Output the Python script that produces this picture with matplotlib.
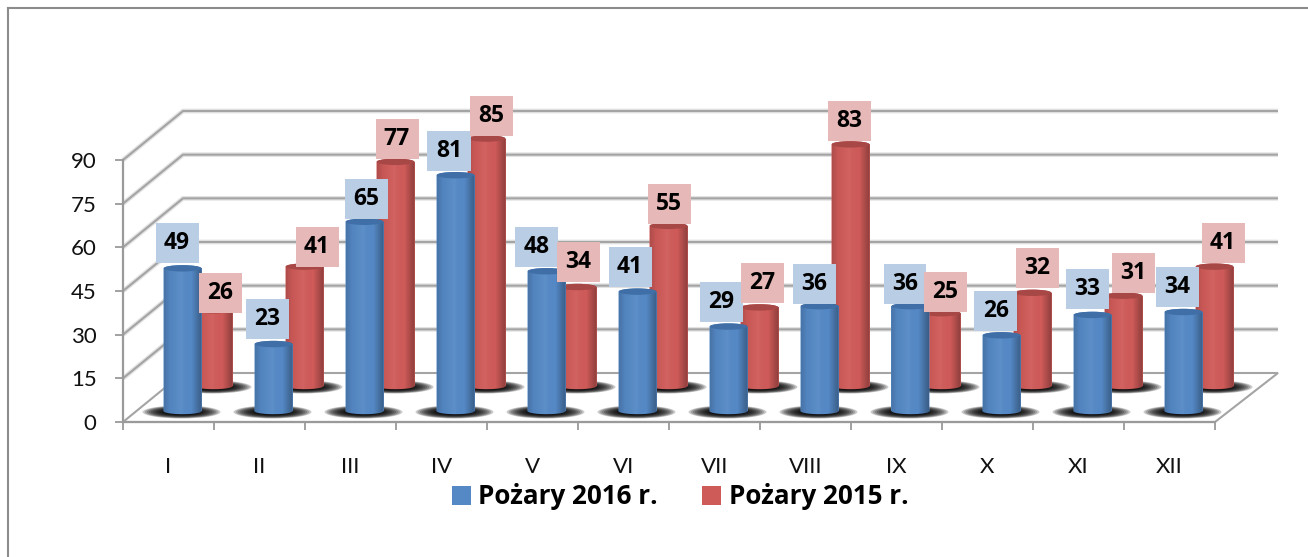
import numpy as np
import matplotlib
matplotlib.use("Agg")
import matplotlib.pyplot as plt
from matplotlib.colors import LinearSegmentedColormap
from matplotlib.lines import Line2D
from matplotlib.patches import Ellipse, Polygon

plt.rcParams['font.family'] = ['Lato', 'DejaVu Sans']
BOLD_FONT = ['Open Sans', 'DejaVu Sans']

months = ["I", "II", "III", "IV", "V", "VI", "VII", "VIII", "IX", "X", "XI", "XII"]
fires_2016 = [49, 23, 65, 81, 48, 41, 29, 36, 36, 26, 33, 34]
fires_2015 = [26, 41, 77, 85, 34, 55, 27, 83, 25, 32, 31, 41]
y_ticks = [0, 15, 30, 45, 60, 75, 90]
legend_labels = ["Pożary 2016 r.", "Pożary 2015 r."]

# label box shift from the top of its cylinder, in pixels (x, up)
shift_2016 = [(-5.5, 25), (-6, 25), (1.5, 23), (-6.5, 24), (-10, 24), (-7.5, 25),
              (-7.5, 25), (-5.5, 22), (-5.5, 22), (-5.5, 24), (-5.5, 26), (-6.5, 25)]
shift_2015 = [(6.5, 17), (12.5, 20), (1.5, 23), (4.5, 23), (0.5, 25), (0.5, 22),
              (2.5, 24), (-1.5, 23), (3.5, 21), (4.5, 25), (9.5, 23), (8.5, 24)]

W, H = 1308, 557
DPI = 100
LEFT, RIGHT, BOTTOM, TOP = 123, 1215, 422, 160
PX_X = 12 / (RIGHT - LEFT)
PX_Y = 90 / (BOTTOM - TOP)

GRID = "#a4a4a4"
HALO = "#e2e2e2"
AXIS = "#9a9a9a"

fig = plt.figure(figsize=(W / DPI, H / DPI), dpi=DPI)
ax = fig.add_axes([LEFT / W, 1 - BOTTOM / H, (RIGHT - LEFT) / W, (BOTTOM - TOP) / H])
ax.set_xlim(-0.5, 11.5)
ax.set_ylim(0, 90)

# depth of the 3D box
depth_x = 60 * PX_X
depth_x_right = 63 * PX_X
depth_y = 49 * PX_Y


def wall_line(v, zorder=1):
    xs = [-0.5, -0.5 + depth_x, 11.5 + depth_x_right]
    ys = [v, v + depth_y, v + depth_y]
    ax.plot(xs, ys, color=HALO, lw=3.4, clip_on=False, zorder=zorder, solid_capstyle="butt")
    ax.plot(xs, ys, color=GRID, lw=1.5, clip_on=False, zorder=zorder + 0.1, solid_capstyle="butt")


for v in y_ticks[1:]:
    wall_line(v)

# floor
floor = Polygon([(-0.5, 0), (-0.5 + depth_x, depth_y), (11.5 + depth_x_right, depth_y), (11.5, 0)],
                closed=True, facecolor="white", edgecolor=GRID, lw=1.5, clip_on=False, zorder=2)
ax.add_patch(floor)

shade = np.linspace(0, 1, 64).reshape(1, -1)
dark_sides = LinearSegmentedColormap.from_list(
    "sides", [(0, (0, 0, 0, 0.16)), (0.15, (0, 0, 0, 0.04)), (0.45, (1, 1, 1, 0.05)),
              (0.72, (0, 0, 0, 0.0)), (1, (0, 0, 0, 0.32))])


def draw_shadow(x0, base, zorder):
    # soft black blot under a cylinder, stacked see-through ellipses
    for k in np.linspace(1, 0.3, 14):
        ax.add_patch(Ellipse((x0 - 1 * PX_X, base - 1 * PX_Y), 78 * k * PX_X, 13 * k * PX_Y, facecolor="black",
                             alpha=0.2, lw=0, clip_on=False, zorder=zorder))


def draw_series(xs, base, values, color, cap, width, zorder):
    bars = ax.bar(xs, values, width=width, bottom=base, color=color, lw=0, clip_on=False, zorder=zorder)
    arc_h = 3.2 * PX_Y
    t = np.linspace(0, np.pi, 40)
    for x0, v in zip(xs, values):
        top = base + v
        draw_shadow(x0, base, zorder - 0.5)
        # rounded bottom edge of the cylinder
        outline = np.column_stack([
            np.r_[x0 - width / 2 * np.cos(t), x0 + width / 2 * np.cos(t)],
            np.r_[base - arc_h * np.sin(t), top + arc_h * np.sin(t)]])
        body = Polygon(outline, closed=True, facecolor=color, lw=0, clip_on=False, zorder=zorder)
        ax.add_patch(body)
        im = ax.imshow(shade, extent=[x0 - width / 2, x0 + width / 2, base - arc_h, top + arc_h],
                       cmap=dark_sides, aspect="auto", zorder=zorder + 0.01, interpolation="bilinear")
        im.set_clip_box(fig.bbox)
        im.set_clip_path(body)
        ax.add_patch(Ellipse((x0, top), width * 0.98, 2 * arc_h, facecolor=cap, lw=0,
                             clip_on=False, zorder=zorder + 0.02))
    return bars


def draw_labels(xs, base, values, shifts, box_color, zorder):
    for x0, v, (sx, sy) in zip(xs, values, shifts):
        ax.text(x0 + sx * PX_X, base + v + sy * PX_Y, str(v), fontsize=16.5, fontweight="bold",
                family=BOLD_FONT, color="black", ha="center", va="center", zorder=zorder, clip_on=False)
        ax.add_patch(Polygon([(x0 + (sx - 21.5) * PX_X, base + v + (sy - 20) * PX_Y),
                              (x0 + (sx + 21.5) * PX_X, base + v + (sy - 20) * PX_Y),
                              (x0 + (sx + 21.5) * PX_X, base + v + (sy + 20) * PX_Y),
                              (x0 + (sx - 21.5) * PX_X, base + v + (sy + 20) * PX_Y)],
                             closed=True, facecolor=box_color, lw=0, clip_on=False, zorder=zorder - 0.1))


pos = np.arange(len(months))
x_2016 = pos + 14 * PX_X
x_2015 = pos + 45 * PX_X
base_2016 = 11 * PX_Y
base_2015 = 36 * PX_Y
bar_w = 38 * PX_X

bars_2015 = draw_series(x_2015, base_2015, fires_2015, "#cf5b59", "#a84846", bar_w, 4)
bars_2016 = draw_series(x_2016, base_2016, fires_2016, "#5589c6", "#3f6fa6", bar_w, 6)
draw_labels(x_2016, base_2016, fires_2016, shift_2016, "#b9cde5", 9)
draw_labels(x_2015, base_2015, fires_2015, shift_2015, "#e6b9b8", 9)

ax.set_xlim(-0.5, 11.5)
ax.set_ylim(0, 90)

# axes, ticks
for side in ["top", "right"]:
    ax.spines[side].set_visible(False)
for side in ["left", "bottom"]:
    ax.spines[side].set_color(AXIS)
    ax.spines[side].set_linewidth(1.6)
    ax.spines[side].set_zorder(3)
ax.set_facecolor("none")
ax.set_yticks(y_ticks)
ax.set_xticks(pos)
ax.set_xticklabels(months)
ax.set_xticks(np.arange(-0.5, 12, 1), minor=True)
ax.tick_params(axis="x", which="major", length=0, pad=25, labelsize=16, labelcolor="#111111")
ax.tick_params(axis="x", which="minor", length=6, width=1.3, color=AXIS)
ax.tick_params(axis="y", length=6, width=1.3, color=AXIS, pad=13, labelsize=16, labelcolor="#111111")

ax.legend([bars_2016, bars_2015], legend_labels, ncol=2, loc="center", frameon=False,
          bbox_to_anchor=((680 - LEFT) / (RIGHT - LEFT), -(497 - BOTTOM) / (BOTTOM - TOP)),
          prop={"size": 18.7, "weight": "bold", "family": BOLD_FONT}, handlelength=0.72, handleheight=0.72,
          handletextpad=0.3, columnspacing=1.7)

# outer frame, only top and left are in the picture
fig.add_artist(Line2D([8 / W, 1], [1 - 8 / H, 1 - 8 / H], color="#8c8c8c", lw=1.5))
fig.add_artist(Line2D([8 / W, 8 / W], [0, 1 - 8 / H], color="#8c8c8c", lw=1.5))

fig.savefig("out.png", dpi=DPI, facecolor="white")
